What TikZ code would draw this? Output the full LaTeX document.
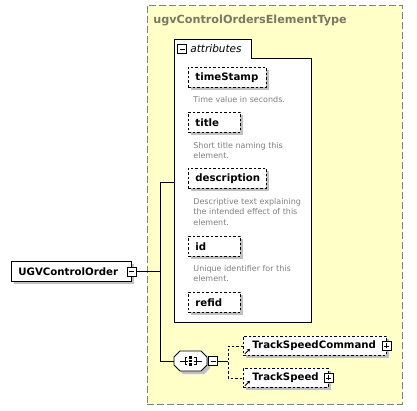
\documentclass[tikz,border=0pt]{standalone}
\usepackage{fontspec}
\setmainfont{DejaVu Sans}
\usetikzlibrary{shadows,arrows.meta}

\definecolor{typefill}{RGB}{255,255,200}
\definecolor{typeborder}{RGB}{128,128,128}
\definecolor{titlegray}{RGB}{120,120,100}
\definecolor{notegray}{RGB}{128,128,128}
\definecolor{shadowgray}{RGB}{192,192,192}

\begin{document}
\begin{tikzpicture}[x=1pt, y=-1pt, line width=0.8pt,
    shadowed/.style={drop shadow={shadow xshift=3pt, shadow yshift=-3pt, fill=shadowgray, opacity=1}},
    elem/.style={draw, fill=white, shadowed, font=\fontsize{10.2}{12}\selectfont\bfseries,
        anchor=north west, inner xsep=7pt, inner ysep=0pt, minimum height=20pt,
        text width=#1, align=left},
    attr/.style={elem=#1, dash pattern=on 2.5pt off 2pt},
    refel/.style={attr=#1, inner xsep=9pt, minimum height=19pt},
    note/.style={font=\fontsize{8}{10.5}\selectfont, text=notegray, anchor=north west,
        inner sep=0pt, align=left},
    pm/.style={draw, fill=white, minimum size=9pt, inner sep=0pt, line width=0.7pt},
    minus/.style={pm, path picture={\draw[line width=0.7pt] ([xshift=2pt]path picture bounding box.west) -- ([xshift=-2pt]path picture bounding box.east);}},
    plus/.style={pm, path picture={\draw[line width=0.7pt] ([xshift=2pt]path picture bounding box.west) -- ([xshift=-2pt]path picture bounding box.east);
        \draw[line width=0.7pt] ([yshift=-2pt]path picture bounding box.north) -- ([yshift=2pt]path picture bounding box.south);}},
    refarrow/.style={-{Stealth[length=3pt,width=3.5pt]}, line width=0.9pt}]

    \useasboundingbox (0,0) rectangle (417,410);

    % complex type
    \node[draw=typeborder, dash pattern=on 7pt off 3pt, fill=typefill, anchor=north west,
        minimum width=255pt, minimum height=399pt, inner sep=0pt] (ctype) at (147,5) {};
    \node[font=\fontsize{11.2}{13}\selectfont\bfseries, text=titlegray, anchor=west, inner sep=0pt]
        (ctitle) at (153,20) {ugvControlOrdersElementType};

    % attributes group
    \draw[fill=white] (174,322) -- (174,39) -- (251,39) -- (251,58) -- (311,58) -- (311,322) -- cycle;
    \node[minus] (attrpm) at (182,49) {};
    \node[font=\fontsize{10.5}{12}\selectfont\itshape, anchor=west, inner sep=0pt] (attrlabel) at (190,49) {attributes};
    \coordinate (attrleft) at (174,182);

    \node[attr=64pt] (timestamp) at (188,67) {timeStamp};
    \node[note] (tsnote) at (193,96) {Time value in seconds.};
    \node[attr=38pt] (title) at (188,112) {title};
    \node[note] (titlenote) at (193,142) {Short title naming this\\element.};
    \node[attr=64pt] (descr) at (188,168) {description};
    \node[note] (descrnote) at (193,198) {Descriptive text explaining\\the intended effect of this\\element.};
    \node[attr=38pt] (id) at (188,236) {id};
    \node[note] (idnote) at (193,265) {Unique identifier for this\\element.};
    \node[attr=38pt] (refid) at (188,292) {refid};

    % root element
    \node[elem=106pt] (root) at (11,261) {UGVControlOrder};
    \node[minus] (rootpm) at (root.east) {};

    % sequence
    \node[minimum width=33pt, minimum height=20pt, inner sep=0pt] (seq) at (190.5,361) {};
    \draw[fill=white, shadowed, shift={(seq.center)}]
        (-16.5,-4) -- (-10.5,-10) -- (10.5,-10) -- (16.5,-4) -- (16.5,4) -- (10.5,10) -- (-10.5,10) -- (-16.5,4) -- cycle;
    \begin{scope}[shift={(seq.center)}, line width=0.7pt]
        \draw (-10.5,0) -- (-3,0);
        \draw (-3.5,-3.5) -- (-5.5,-3.5) -- (-5.5,3.5) -- (-3.5,3.5);
        \draw (3.5,-3.5) -- (5.5,-3.5) -- (5.5,3.5) -- (3.5,3.5);
        \draw (3,0) -- (11,0);
        \foreach \dy in {-3.5,0,3.5}
            \fill (-1.2,\dy-1.2) rectangle (1.2,\dy+1.2);
    \end{scope}
    \node[minus] (seqpm) at (213,361) {};

    % children
    \node[refel=125pt] (tsc) at (243,336) {TrackSpeedCommand};
    \node[plus] (tscpm) at (tsc.east) {};
    \node[refel=67pt] (ts) at (243,368) {TrackSpeed};
    \node[plus] (tspm) at (ts.east) {};
    \draw[refarrow] ([shift={(2,-2)}]tsc.south west) -- ++(5,-5);
    \draw[refarrow] ([shift={(2,-2)}]ts.south west) -- ++(5,-5);

    % connectors
    \coordinate (jtop) at (160,182);
    \coordinate (jbot) at (160,361);
    \coordinate (fork) at (228,361);
    \draw (rootpm.east) -- (rootpm.east -| jtop);
    \draw (jtop) -- (jbot);
    \draw (jtop) -- (attrleft);
    \draw (jbot) -- (seq.west);
    \draw (seqpm.east) -- (fork);
    \draw[dash pattern=on 2.5pt off 2pt] (tsc.west) -| (fork) |- (ts.west);
\end{tikzpicture}
\end{document}
